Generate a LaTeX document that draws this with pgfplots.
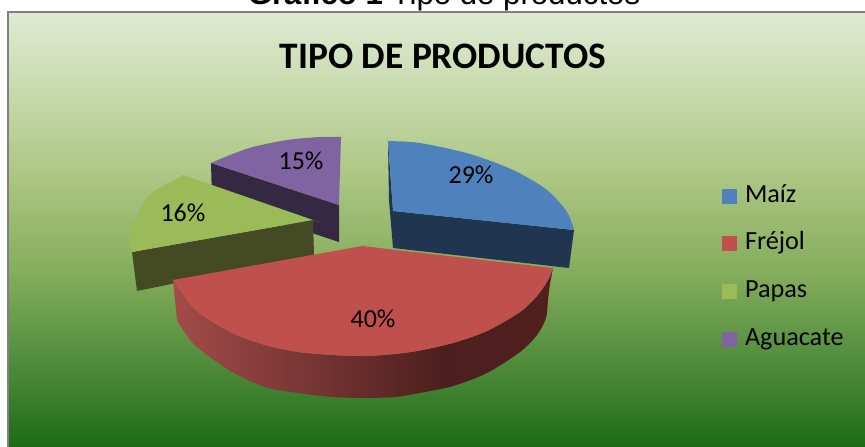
\documentclass[border=0pt]{standalone}
\usepackage{fontspec}
\setmainfont{Carlito}
\newfontfamily\captionfont{Liberation Sans}
\usepackage{pgfplots}
\pgfplotsset{compat=1.18}

% Sheet colours
\definecolor{maiztop}{HTML}{4F81BD}
\definecolor{maizside}{HTML}{1F3550}
\definecolor{frejoltop}{HTML}{C0504D}
\definecolor{papastop}{HTML}{9BBB59}
\definecolor{papasside}{HTML}{434A24}
\definecolor{aguacatetop}{HTML}{8064A2}
\definecolor{aguacateside}{HTML}{352843}
\definecolor{bga}{HTML}{1C6A14}
\definecolor{bgb}{HTML}{4F8C3C}
\definecolor{bgc}{HTML}{85AD5C}
\definecolor{bgd}{HTML}{AEC885}
\definecolor{bge}{HTML}{C8DAAD}
\definecolor{bgf}{HTML}{E0EAD3}
\definecolor{rima}{HTML}{A34C49}
\definecolor{rimb}{HTML}{4C1F1E}
\definecolor{rimc}{HTML}{501F1E}

% Chart area: pale green at the top, deep green at the bottom
\pgfdeclareverticalshading{chartarea}{100bp}{
  color(0bp)=(bga);
  color(25bp)=(bga);
  color(35bp)=(bgb);
  color(45.4bp)=(bgc);
  color(56.9bp)=(bgd);
  color(66.1bp)=(bge);
  color(75bp)=(bgf);
  color(100bp)=(bgf)}

% Rim of the largest slice, darkening towards the right
\pgfdeclarehorizontalshading{frejolrim}{100bp}{
  color(0bp)=(rima);
  color(25bp)=(rima);
  color(60.5bp)=(rimb);
  color(75bp)=(rimc);
  color(100bp)=(rimc)}

\begin{document}
\begin{tikzpicture}
\clip (0,0) rectangle (865bp,447bp);
\begin{axis}[
  scale only axis, width=865bp, height=447bp,
  xmin=0, xmax=865, ymin=0, ymax=447, y dir=reverse,
  hide axis, clip=false,
  legend image code/.code={
    \fill[draw=none,#1] (0bp,-7.5bp) rectangle (15bp,7.5bp);
    \path[draw=none,fill=none] (0bp,0bp) -- (23bp,0bp);},
  legend cell align=left,
  legend style={
    at={(axis cs:722,184)}, anchor=north west, draw=none, fill=none,
    inner sep=0pt, outer sep=0pt, row sep=23.7bp,
    nodes={inner sep=0pt, text height=18bp, text depth=6bp},
    font=\fontsize{26.3}{30}\selectfont},
]
% Background panel, running off the right and bottom edges of the page
\addplot[forget plot, shading=chartarea, draw=black!50, line width=2.5bp]
  coordinates {(8,12) (872,12) (872,450) (8,450)} -- cycle;

% Aguacate
\addplot[forget plot, fill=aguacateside, draw=none]
  coordinates {(211,163) (339,205) (339,242) (212,200)} -- cycle;
\addplot[forget plot, smooth, fill=aguacatetop, draw=none]
  coordinates {(339,205)(339,205)(339,205) (341,137)(341,137)(341,137)
    (320,137) (287,140) (253,147) (230,155)
    (211,163)(211,163)(211,163)} -- cycle;

% Papas
\addplot[forget plot, fill=papasside, draw=none]
  coordinates {(132,252) (313,220) (314,255) (137,291)} -- cycle;
\addplot[forget plot, smooth, fill=papastop, draw=none]
  coordinates {(313,220)(313,220)(313,220) (183,175)(183,175)(183,175)
    (167,184) (153,192) (142,205) (135,220) (129,237)
    (132,252)(132,252)(132,252)} -- cycle;

% Maiz
\addplot[forget plot, fill=maizside, draw=none]
  coordinates {(388,141) (393,211) (393,248) (389,200)} -- cycle;
\addplot[forget plot, fill=maizside, draw=none]
  coordinates {(393,211) (574,230) (569,268) (393,248)} -- cycle;
\addplot[forget plot, smooth, fill=maiztop, draw=none]
  coordinates {(393,211)(393,211)(393,211) (388,141)(388,141)(388,141)
    (420,143) (470,154) (513,170) (547,190) (567,212)
    (574,230)(574,230)(574,230)} -- cycle;

% Frejol: rim first, then the top face
\addplot[forget plot, smooth, shading=frejolrim, draw=none]
  coordinates {(173,280)(173,280)(173,280)
    (182,293) (198,312) (232,333) (265,345) (298,352) (332,355) (365,356)
    (395,354) (420,350.5) (453,343) (487,331) (520,312) (537,296) (548,280)
    (553,268)(553,268)(553,268)
    (550,284) (548,300) (546,318) (537,335) (520,352) (487,373) (453,386)
    (420,393) (395,397) (365,398) (332,397) (298,393) (265,387) (232,372)
    (198,348) (185,333)
    (177,320)(177,320)(177,320)} -- cycle;
\addplot[forget plot, smooth, fill=frejoltop, draw=none]
  coordinates {(362,246)(362,246)(362,246) (173,280)(173,280)(173,280)
    (182,293) (198,312) (232,333) (265,345) (298,352) (332,355) (365,356)
    (395,354) (420,350.5) (453,343) (487,331) (520,312) (537,296) (548,280)
    (553,268)(553,268)(553,268)} -- cycle;

% Legend
\addlegendimage{fill=maiztop}\addlegendentry{Maíz}
\addlegendimage{fill=frejoltop}\addlegendentry{Fréjol}
\addlegendimage{fill=papastop}\addlegendentry{Papas}
\addlegendimage{fill=aguacatetop}\addlegendentry{Aguacate}

% Slice labels
\def\slicefont{\fontsize{26}{30}\selectfont}
\node[font=\slicefont] at (axis cs:471,175) {29\%};
\node[font=\slicefont] at (axis cs:373,319) {40\%};
\node[font=\slicefont] at (axis cs:183,213) {16\%};
\node[font=\slicefont] at (axis cs:301,161) {15\%};

% Chart title and the caption above the panel
\node[font=\fontsize{37.5}{44}\selectfont\bfseries] at (axis cs:443,56) {TIPO DE PRODUCTOS};
\node[font=\fontsize{31.3}{36}\selectfont\captionfont, anchor=base] at (axis cs:444,5)
  {\textbf{Gráfico 1} Tipo de productos};
\end{axis}
\end{tikzpicture}
\end{document}
